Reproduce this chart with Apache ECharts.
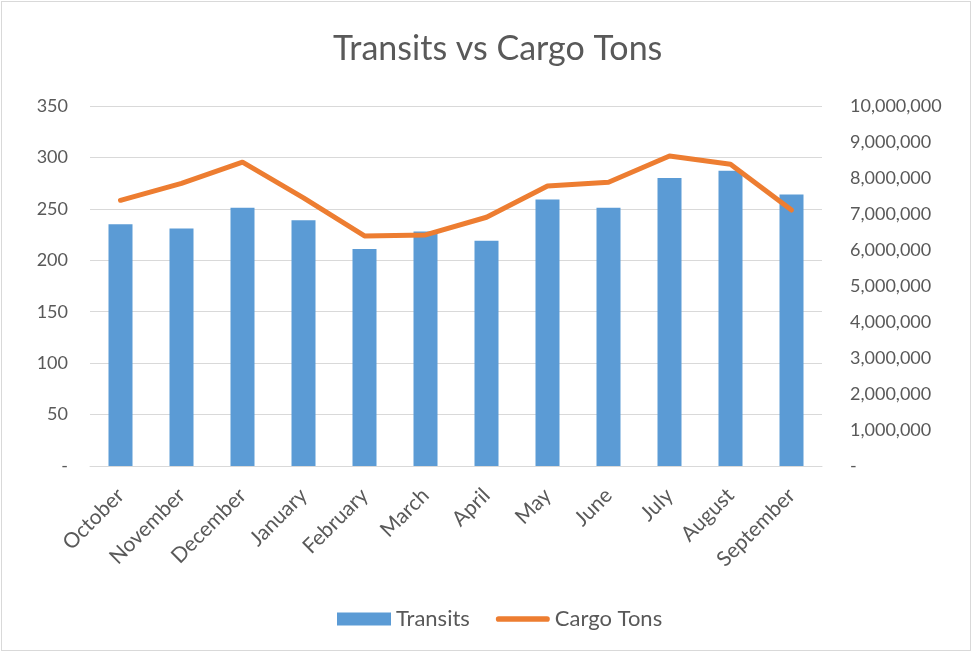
<!DOCTYPE html>
<html><head><meta charset="utf-8">
<script src="https://cdn.jsdelivr.net/npm/echarts@6/dist/echarts.min.js"></script>
<style>
html,body{margin:0;padding:0;background:#fff;}
#c{position:absolute;left:0;top:0;width:972px;height:652px;}
#frame{position:absolute;left:1px;top:1px;width:968px;height:648px;border:1px solid #d9d9d9;pointer-events:none;}
</style></head>
<body>
<div id="c"></div><div id="frame"></div>
<script>
var categories = ["October","November","December","January","February","March","April","May","June","July","August","September"];
var transits = [235, 231, 251, 239, 211, 228, 219, 259, 251, 280, 287, 264];
var cargoTons = [7380000, 7850000, 8440000, 7450000, 6390000, 6420000, 6910000, 7780000, 7880000, 8610000, 8380000, 7110000];

var font = "Lato, 'Open Sans', sans-serif";
var txt = '#595959';
function fmtNum(v){ if(v===0) return '-'; return String(v).replace(/\B(?=(\d{3})+(?!\d))/g, ','); }

var chart = echarts.init(document.getElementById('c'));
chart.setOption({
  animation:false,
  title:{text:'Transits vs Cargo Tons', left:328, top:27,
    textStyle:{fontFamily:font, fontSize:34, fontWeight:'normal', color:txt}},
  legend:{top:603, left:332, itemWidth:54, itemHeight:13, itemGap:26,
    textStyle:{fontFamily:font, fontSize:22, color:txt},
    data:[{name:'Transits', icon:'rect'},
          {name:'Cargo Tons', icon:'path://M3,0 L54,0 A3,3 0 0 1 54,6 L3,6 A3,3 0 0 1 3,0 Z'}]},
  grid:{left:90, right:150, top:106, bottom:186},
  xAxis:{type:'category', data:categories,
    axisLine:{lineStyle:{color:'#d9d9d9', width:1}},
    axisTick:{show:false},
    axisLabel:{rotate:45, fontFamily:font, fontSize:21, color:txt, margin:26, interval:0}},
  yAxis:[
    {type:'value', min:0, max:350, interval:50,
     axisLine:{show:false}, axisTick:{show:false},
     splitLine:{lineStyle:{color:'#d9d9d9', width:1}},
     axisLabel:{fontFamily:font, fontSize:18, color:txt, margin:22, formatter:fmtNum}},
    {type:'value', min:0, max:10000000, interval:1000000,
     axisLine:{show:false}, axisTick:{show:false}, splitLine:{show:false},
     axisLabel:{fontFamily:font, fontSize:18, color:txt, margin:28, formatter:fmtNum}}
  ],
  series:[
    {name:'Transits', type:'bar', data:transits, barWidth:24, itemStyle:{color:'#5B9BD5'}, yAxisIndex:0},
    {name:'Cargo Tons', type:'line', data:cargoTons, yAxisIndex:1, symbol:'none',
     lineStyle:{color:'#ED7D31', width:5, cap:'round', join:'round'}, itemStyle:{color:'#ED7D31'}}
  ]
});
</script>
</body></html>
